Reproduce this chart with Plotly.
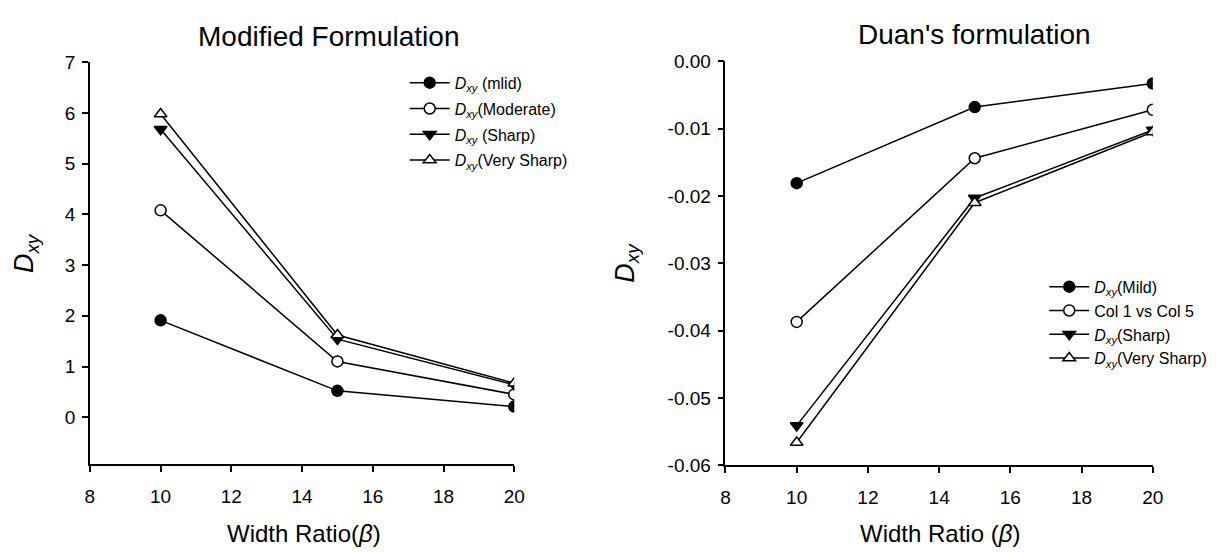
import plotly.graph_objects as go

# ---------------- data ----------------
width_ratio = [10, 15, 20]

mod_mild = [1.91, 0.52, 0.21]
mod_moderate = [4.08, 1.10, 0.45]
mod_sharp = [5.68, 1.54, 0.64]
mod_very_sharp = [5.98, 1.62, 0.67]

duan_mild = [-0.0181, -0.0068, -0.0033]
duan_col1_col5 = [-0.0387, -0.0144, -0.0072]
duan_sharp = [-0.0541, -0.0203, -0.0102]
duan_very_sharp = [-0.0566, -0.0210, -0.0105]

left_names = ["<i>D</i><sub><i>xy</i></sub> (mlid)", "<i>D</i><sub><i>xy</i></sub>(Moderate)",
              "<i>D</i><sub><i>xy</i></sub> (Sharp)", "<i>D</i><sub><i>xy</i></sub>(Very Sharp)"]
right_names = ["<i>D</i><sub><i>xy</i></sub>(Mild)", "Col 1 vs Col 5",
               "<i>D</i><sub><i>xy</i></sub>(Sharp)", "<i>D</i><sub><i>xy</i></sub>(Very Sharp)"]

x_ticks = [8, 10, 12, 14, 16, 18, 20]
left_y_ticks = [0, 1, 2, 3, 4, 5, 6, 7]
right_y_ticks = [0.0, -0.01, -0.02, -0.03, -0.04, -0.05, -0.06]
right_y_labels = ["0.00", "-0.01", "-0.02", "-0.03", "-0.04", "-0.05", "-0.06"]

# ---------------- style ----------------
FONT = "Liberation Sans, Arial, sans-serif"
W, H = 1224, 554
styles = [
    dict(symbol="circle", color="black"),
    dict(symbol="circle", color="white"),
    dict(symbol="triangle-down", color="black"),
    dict(symbol="triangle-up", color="white"),
]

fig = go.Figure()

for i, (series, name, st) in enumerate(zip([mod_mild, mod_moderate, mod_sharp, mod_very_sharp],
                                           left_names, styles)):
    fig.add_trace(go.Scatter(
        x=width_ratio, y=series, name=name, mode="lines+markers",
        line=dict(color="black", width=1.5),
        marker=dict(symbol=st["symbol"], color=st["color"], size=11,
                    line=dict(color="black", width=1.5)),
        legendgroup=f"L{i}", xaxis="x", yaxis="y", legend="legend"))

for i, (series, name, st) in enumerate(zip([duan_mild, duan_col1_col5, duan_sharp, duan_very_sharp],
                                           right_names, styles)):
    fig.add_trace(go.Scatter(
        x=width_ratio, y=series, name=name, mode="lines+markers",
        line=dict(color="black", width=1.5),
        marker=dict(symbol=st["symbol"], color=st["color"], size=11,
                    line=dict(color="black", width=1.5)),
        legendgroup=f"R{i}", xaxis="x2", yaxis="y2", legend="legend2"))

axis_common = dict(showline=True, linecolor="black", linewidth=1.5, ticks="outside",
                   ticklen=6, tickwidth=1.5, tickcolor="black", showgrid=False,
                   zeroline=False, tickfont=dict(family=FONT, size=19, color="black"))


def px_x(p):
    return p / W


def px_y(p):
    return 1 - p / H


fig.update_layout(
    width=W, height=H,
    margin=dict(l=0, r=0, t=0, b=0),
    paper_bgcolor="white", plot_bgcolor="white",
    font=dict(family=FONT, color="black"),
    xaxis=dict(domain=[px_x(86), px_x(516)], range=[8, 20], tickvals=x_ticks,
               anchor="y", ticklabelstandoff=8, **axis_common),
    yaxis=dict(domain=[px_y(472.3), px_y(54.3)], range=[-0.93, 7], tickvals=left_y_ticks,
               anchor="x", ticklabelstandoff=3, **axis_common),
    xaxis2=dict(domain=[px_x(730), px_x(1163)], range=[8, 20], tickvals=x_ticks,
                anchor="y2", ticklabelstandoff=8, **axis_common),
    yaxis2=dict(domain=[px_y(473.3), px_y(53.3)], range=[-0.06, 0], tickvals=right_y_ticks,
                ticktext=right_y_labels, anchor="x2", ticklabelstandoff=3, **axis_common),
    legend=dict(x=px_x(405), y=px_y(58), xanchor="left", yanchor="top",
                bgcolor="rgba(0,0,0,0)", font=dict(family=FONT, size=16, color="black"),
                itemwidth=40, tracegroupgap=2),
    legend2=dict(x=px_x(1053), y=px_y(270), xanchor="left", yanchor="top",
                 bgcolor="rgba(0,0,0,0)", font=dict(family=FONT, size=16, color="black"),
                 itemwidth=40, tracegroupgap=0),
    showlegend=True,
)

annotations = [
    dict(text="Modified Formulation", x=px_x(328), y=px_y(28), size=28),
    dict(text="Duan's formulation", x=px_x(982), y=px_y(25), size=28),
    dict(text="Width Ratio(<i>β</i>)", x=px_x(303), y=px_y(544), size=24),
    dict(text="Width Ratio (<i>β</i>)", x=px_x(947), y=px_y(544), size=24),
]
for a in annotations:
    fig.add_annotation(text=a["text"], x=a["x"], y=a["y"], xref="paper", yref="paper",
                       xanchor="center", yanchor="middle", showarrow=False,
                       font=dict(family=FONT, size=a["size"], color="black"))

for xp, yp in [(22, 253), (630, 263)]:
    fig.add_annotation(text="<i>D</i><sub><i>xy</i></sub>", x=px_x(xp), y=px_y(yp),
                       xref="paper", yref="paper", xanchor="center", yanchor="middle",
                       showarrow=False, textangle=-90,
                       font=dict(family=FONT, size=27, color="black"))

fig.write_html("out.html")
